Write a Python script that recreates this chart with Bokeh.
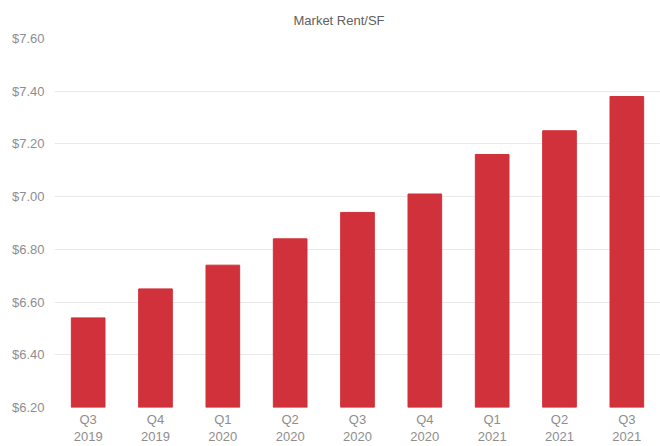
from bokeh.plotting import figure
from bokeh.models import Range1d, NumeralTickFormatter, FixedTicker
from bokeh.embed import file_html
from bokeh.resources import INLINE

quarters = ["Q3\n2019", "Q4\n2019", "Q1\n2020", "Q2\n2020", "Q3\n2020",
            "Q4\n2020", "Q1\n2021", "Q2\n2021", "Q3\n2021"]
rent = [6.54, 6.65, 6.74, 6.84, 6.94, 7.01, 7.16, 7.25, 7.38]
y_ticks = [6.2, 6.4, 6.6, 6.8, 7.0, 7.2, 7.4, 7.6]

FONT = "Liberation Sans"

p = figure(x_range=quarters, y_range=Range1d(6.2, 7.6), width=660, height=446,
           output_backend="svg", toolbar_location=None,
           min_border_left=54, min_border_right=0, min_border_top=38, min_border_bottom=39,
           title="Market Rent/SF")
p.title.align = "left"
p.title.offset = 239
p.title.standoff = 21
p.title.text_font = FONT
p.title.text_font_size = "13px"
p.title.text_font_style = "normal"
p.title.text_color = "#606060"

p.vbar(x=quarters, top=rent, bottom=6.2, width=0.5, color="#d0313a")

p.outline_line_color = None
p.background_fill_color = "#ffffff"
p.border_fill_color = "#ffffff"

p.xgrid.grid_line_color = None
p.ygrid.grid_line_color = "#e9e9e9"
p.ygrid.grid_line_width = 1

p.yaxis.ticker = FixedTicker(ticks=y_ticks)
p.yaxis.formatter = NumeralTickFormatter(format="$0.00")
for ax in (p.xaxis, p.yaxis):
    ax.axis_line_color = None
    ax.major_tick_line_color = None
    ax.minor_tick_line_color = None
    ax.major_label_text_font = FONT
    ax.major_label_text_font_size = "13px"
    ax.major_label_text_color = "#8e8e8e"
    ax.major_tick_out = 0
    ax.major_tick_in = 0
p.yaxis.major_label_standoff = 10
p.xaxis.major_label_standoff = 4
p.xaxis.major_label_text_line_height = 1.15

open("out.html", "w").write(file_html(p, INLINE))
